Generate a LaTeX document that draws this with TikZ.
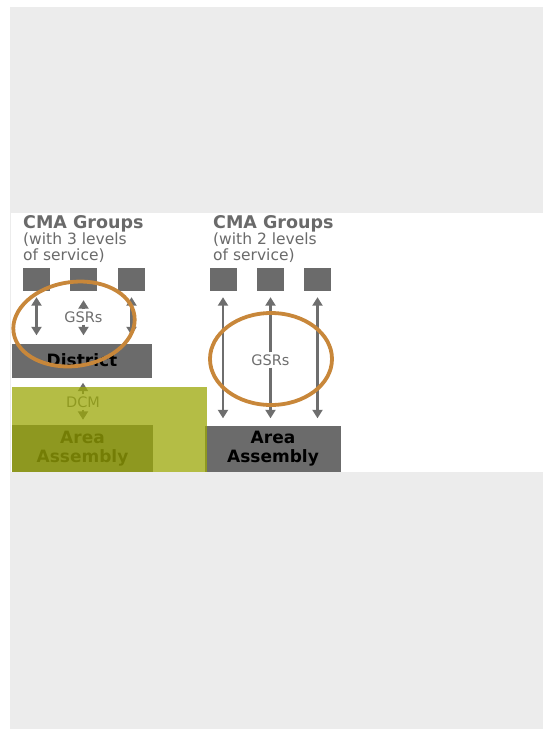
\documentclass[tikz,border=0pt]{standalone}
\usepackage{fontspec}
\setmainfont{DejaVu Sans}
\usetikzlibrary{arrows.meta}
\definecolor{pagegray}{HTML}{ECECEC}
\definecolor{boxgray}{HTML}{6B6B6B}
\definecolor{inkgray}{HTML}{6A6A6A}
\definecolor{arrowgray}{HTML}{6E6E6E}
\definecolor{ringorange}{HTML}{C8873A}
\definecolor{dcmgreen}{RGB}{155,168,8}
\tikzset{
  sq/.style={fill=boxgray, minimum width=27pt, minimum height=23pt, inner sep=0pt},
  bar/.style={fill=boxgray, inner sep=0pt, text=black, align=center,
              font=\fontsize{17pt}{19.5pt}\selectfont\bfseries},
  title/.style={anchor=base west, inner sep=0pt, text=inkgray,
                font=\fontsize{17.5pt}{21pt}\selectfont\bfseries},
  subtitle/.style={anchor=base west, inner sep=0pt, text=inkgray,
                   font=\fontsize{15.5pt}{16pt}\selectfont},
  lbl/.style={inner sep=2pt, text=arrowgray, font=\fontsize{14.5pt}{16pt}\selectfont},
  tip/.style={Triangle[width=10pt,length=8.5pt]},
  conn/.style={draw=arrowgray, line width=2.3pt, arrows={-Triangle[width=10pt,length=8.5pt]}},
  biconn/.style={draw=arrowgray, line width=2.3pt,
                 arrows={Triangle[width=10pt,length=8.5pt]-Triangle[width=10pt,length=8.5pt]}},
  ring/.style={draw=ringorange, line width=3.8pt}
}
\begin{document}
\begin{tikzpicture}[x=1pt,y=-1pt]
\useasboundingbox (0,0) rectangle (543,729);
% page and white panel
\fill[white] (0,0) rectangle (543,729);
\fill[pagegray] (10,7) rectangle (543,729);
\fill[white] (11,213) rectangle (543,472);

% headings
\node[title] (t1) at (23,228) {CMA Groups};
\node[subtitle] (t1a) at (23,244) {(with 3 levels};
\node[subtitle] (t1b) at (23,260) {of service)};
\node[title] (t2) at (213,228) {CMA Groups};
\node[subtitle] (t2a) at (213,244) {(with 2 levels};
\node[subtitle] (t2b) at (213,260) {of service)};

% group squares
\node[sq] (a1) at (36.5,279.5) {};
\node[sq] (a2) at (83.5,279.5) {};
\node[sq] (a3) at (131.5,279.5) {};
\node[sq] (b1) at (223,279.5) {};
\node[sq] (b2) at (270.5,279.5) {};
\node[sq] (b3) at (317.5,279.5) {};

% bars
\node[bar, minimum width=140pt, minimum height=34pt] (district) at (82,360.5) {District};
\node[bar, minimum width=141pt, minimum height=47pt] (larea) at (82.5,448.5) {Area\\Assembly};
\node[bar, minimum width=136pt, minimum height=46pt] (rarea) at (273,448.5) {Area\\Assembly};

% labels
\node[lbl] (gl) at (83.5,317) {GSRs};
\node[lbl] (gr) at (270.5,360) {GSRs};
\node[lbl] (dcm) at (83,402) {DCM};

% three-level links
\draw[biconn, shorten <=6pt, shorten >=8pt] (a1.south) -- (a1.south |- district.north);
\draw[biconn, shorten <=6pt, shorten >=8pt] (a3.south) -- (a3.south |- district.north);
\draw[conn, shorten >=9pt] (gl) -- (a2.south);
\draw[conn, shorten >=8pt] (gl) -- (gl |- district.north);
\draw[conn, shorten >=5pt] (dcm) -- (dcm |- district.south);
\draw[conn, shorten >=5pt] (dcm) -- (dcm |- larea.north);

% two-level links
\draw[biconn, shorten <=6pt, shorten >=7pt] (b1.south) -- (b1.south |- rarea.north);
\draw[biconn, shorten <=6pt, shorten >=7pt] (b3.south) -- (b3.south |- rarea.north);
\draw[conn, shorten >=6pt] (gr) -- (b2.south);
\draw[conn, shorten >=7pt] (gr) -- (gr |- rarea.north);

% green overlay of the DCM level
\fill[dcmgreen, opacity=0.75] (12,387) rectangle (207,472);

% highlight rings
\draw[ring, rotate around={8:(74,324)}] (74,324) ellipse [x radius=61, y radius=42];
\draw[ring] (271,359) ellipse [x radius=61, y radius=46];
\end{tikzpicture}
\end{document}
